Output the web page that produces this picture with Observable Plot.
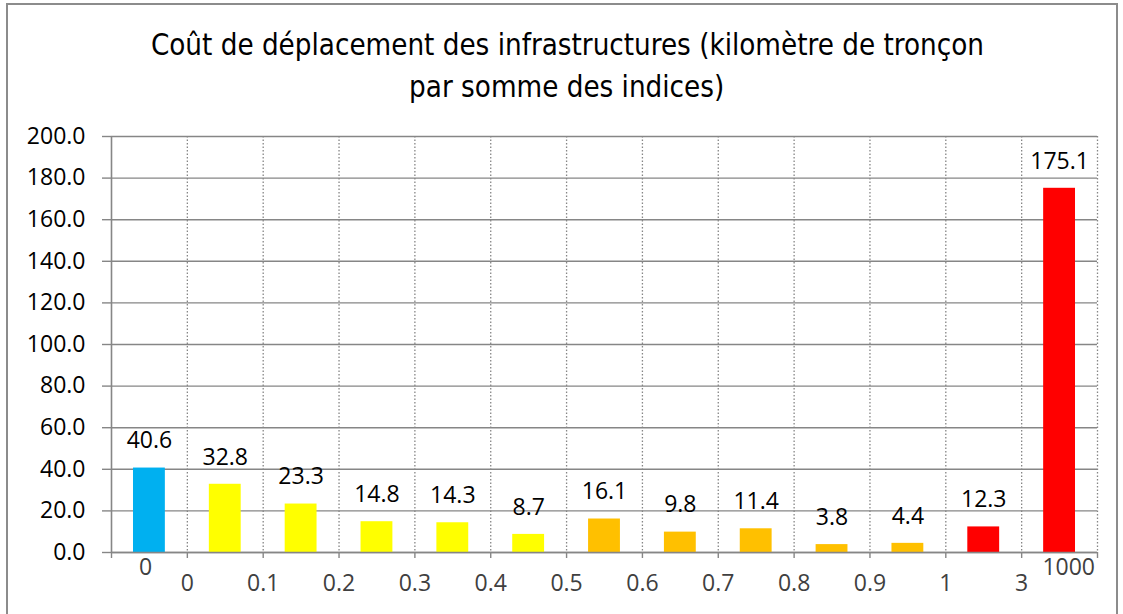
<!DOCTYPE html>
<html>
<head>
<meta charset="utf-8">
<script src="https://cdn.jsdelivr.net/npm/d3@7"></script>
<script src="https://cdn.jsdelivr.net/npm/@observablehq/plot@0.6"></script>
<style>
  body { margin: 0; background: #fff; }
  #wrap { position: relative; width: 1123px; height: 614px; overflow: hidden; background: #fff; }
  #border { position: absolute; left: 6px; top: 3px; width: 1112px; height: 700px; border: 2px solid #8c8c8c; box-sizing: border-box; }
  #title { position: absolute; left: 0; top: 24px; width: 1134px; text-align: center;
           font-family: "Liberation Sans Narrow", "DejaVu Sans Condensed", sans-serif;
           font-size: 30px; line-height: 42px; color: #000; white-space: nowrap; }
  #title span { display: inline-block; transform-origin: center; }
  #chart { position: absolute; left: 0; top: 0; }
</style>
</head>
<body>
<div id="wrap">
  <div id="border"></div>
  <div id="chart"></div>
  <div id="title"><span id="t1">Coût de déplacement des infrastructures (kilomètre de tronçon</span><br><span id="t2">par somme des indices)</span></div>
</div>
<script>
// ---- data ----
const categories = ["0", "0–0.1", "0.1–0.2", "0.2–0.3", "0.3–0.4", "0.4–0.5", "0.5–0.6", "0.6–0.7", "0.7–0.8", "0.8–0.9", "0.9–1", "1–3", "3–1000"];
const values = [40.6, 32.8, 23.3, 14.8, 14.3, 8.7, 16.1, 9.8, 11.4, 3.8, 4.4, 12.3, 175.1];
const classes = ["nul", "faible", "faible", "faible", "faible", "faible", "moyen", "moyen", "moyen", "moyen", "moyen", "fort", "fort"];
const classNames = ["nul", "faible", "moyen", "fort"];
const classColors = ["#00B0F0", "#FFFF00", "#FFC000", "#FF0000"];
const yTicks = [0, 20, 40, 60, 80, 100, 120, 140, 160, 180, 200];
const boundaryLabels = ["0", "0.1", "0.2", "0.3", "0.4", "0.5", "0.6", "0.7", "0.8", "0.9", "1", "3"];
const endLabels = ["0", "1000"];

const bars = categories.map((c, i) => ({i, category: c, value: values[i], cls: classes[i]}));
const boundaries = d3.range(0, categories.length + 1);
const boundaryData = boundaryLabels.map((t, k) => ({pos: k + 1, text: t}));
const endData = [{pos: 0.45, text: endLabels[0]}, {pos: categories.length - 0.38, text: endLabels[1]}];

const grid = "#868686";
const font = "'Open Sans', 'Noto Sans', sans-serif";

const chart = Plot.plot({
  width: 1123,
  height: 614,
  marginLeft: 111,
  marginRight: 26,
  marginTop: 136,
  marginBottom: 62,
  style: {fontFamily: font, fontSize: "23px", background: "transparent", color: "#000"},
  x: {domain: [0, categories.length], axis: null, label: null},
  y: {domain: [0, 200], axis: null, label: null},
  color: {domain: classNames, range: classColors},
  marks: [
    Plot.ruleY(yTicks, {stroke: grid, strokeWidth: 1.4}),
    Plot.ruleX(boundaries.slice(1), {stroke: grid, strokeWidth: 1.3, strokeDasharray: "1.5,2"}),
    Plot.axisY({ticks: yTicks, label: null, tickSize: 9, tickPadding: 17, tickFormat: d => d.toFixed(1), stroke: grid, strokeWidth: 1.4, fill: "#000", fontSize: 23}),
    Plot.axisX({ticks: boundaries, label: null, tickSize: 6, tickFormat: () => "", stroke: grid, strokeWidth: 1.4}),
    Plot.rectY(bars, {x1: d => d.i + 0.29, x2: d => d.i + 0.71, y1: 0, y2: "value", fill: "cls"}),
    Plot.ruleX([0], {stroke: grid, strokeWidth: 1.6}),
    Plot.ruleY([0], {stroke: grid, strokeWidth: 1.6}),
    Plot.text(bars, {x: d => d.i + 0.5, y: "value", text: d => d.value.toFixed(1), dy: -27, fill: "#000", fontSize: 23}),
    Plot.text(boundaryData, {x: "pos", frameAnchor: "bottom", dy: 38, text: "text", fill: "#404040", fontSize: 23}),
    Plot.text(endData, {x: "pos", frameAnchor: "bottom", dy: 22, text: "text", fill: "#404040", fontSize: 23})
  ]
});
document.getElementById("chart").appendChild(chart);

// fit title width to the reference
const t1 = document.getElementById("t1");
const t2 = document.getElementById("t2");
const w = t1.getBoundingClientRect().width;
const s = 833 / w;
t1.style.transform = `scaleX(${s})`;
t2.style.transform = `scaleX(${s})`;
</script>
</body>
</html>
